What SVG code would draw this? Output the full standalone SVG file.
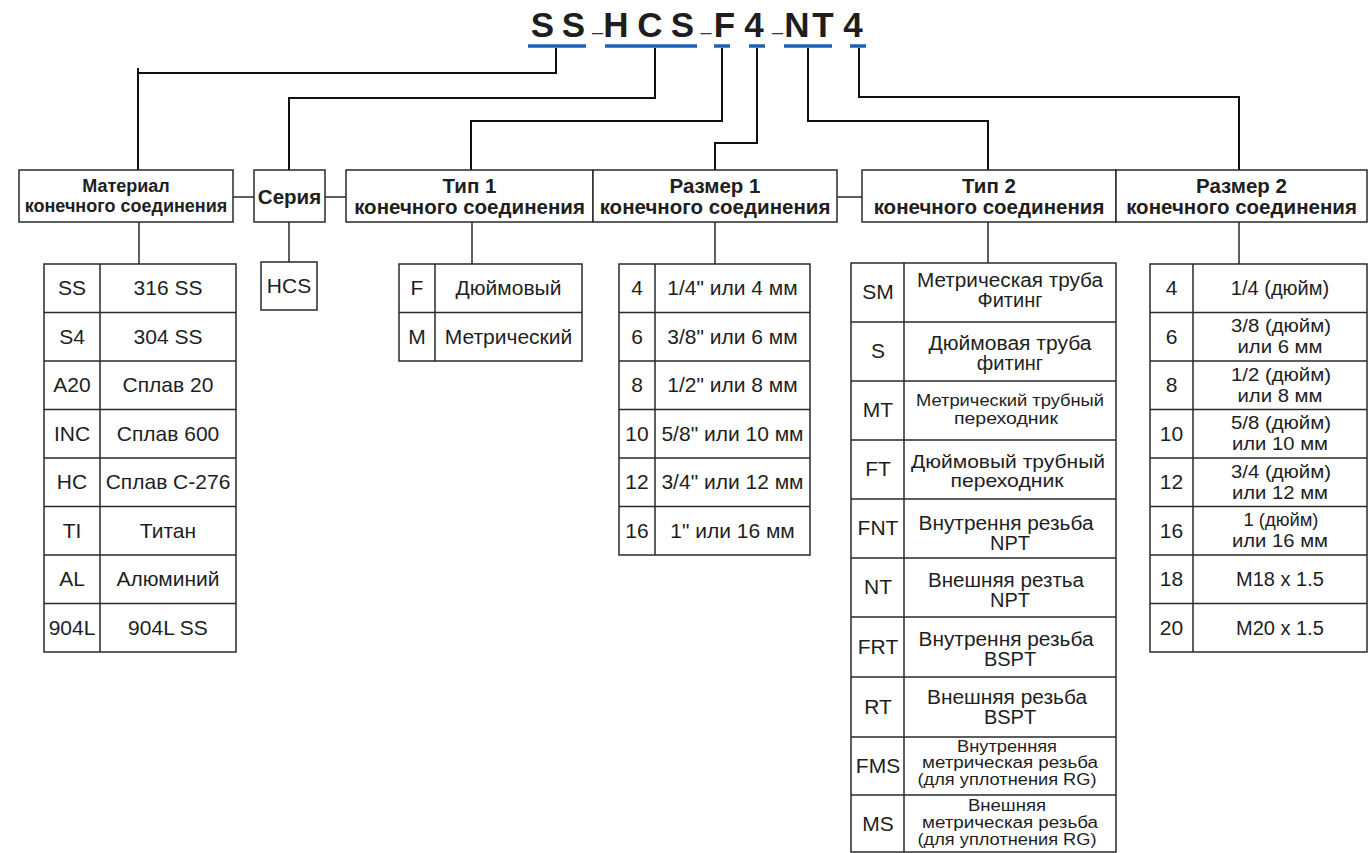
<svg xmlns="http://www.w3.org/2000/svg" width="1370" height="853" viewBox="0 0 1370 853">
<style>
text { font-family: "Liberation Sans", Arial, sans-serif; fill: #1e1e1e; text-anchor: middle; }
.title { font-size: 35px; font-weight: bold; }
.dash { font-size: 20px; font-weight: normal; fill: #333; }
.hb { font-size: 20.5px; font-weight: bold; }
.hb18 { font-size: 18px; font-weight: bold; }
.c { font-size: 21px; }
.c20 { font-size: 20px; }
.c2l { font-size: 18px; }
.c19 { font-size: 19px; }
.c17 { font-size: 17px; }
.c16 { font-size: 16px; }
.box { fill: #fff; stroke: #2a2a2a; stroke-width: 1.5; }
.grid { stroke: #2a2a2a; stroke-width: 1.5; fill: none; }
.conn { stroke: #111; stroke-width: 2; fill: none; }
.bar { stroke: #1a64b4; stroke-width: 3.5; }
</style>

<g id="title">
  <text class="title" y="37"><tspan x="542.5 573.5">SS</tspan><tspan class="dash" x="597.5" y="38.5">–</tspan><tspan x="616 650 682.5" y="37">HCS</tspan><tspan class="dash" x="706" y="38.5">–</tspan><tspan x="724.5 754" y="37">F4</tspan><tspan class="dash" x="777.5" y="38.5">–</tspan><tspan x="797 823 853" y="37">NT4</tspan></text>
  <line class="bar" x1="528" y1="46" x2="586" y2="46"/>
  <line class="bar" x1="605" y1="46" x2="697" y2="46"/>
  <line class="bar" x1="714" y1="46" x2="730" y2="46"/>
  <line class="bar" x1="749" y1="46" x2="765" y2="46"/>
  <line class="bar" x1="784" y1="46" x2="832" y2="46"/>
  <line class="bar" x1="850" y1="46" x2="866" y2="46"/>
</g>

<g id="connectors">
  <path class="conn" d="M556,48 V73 H138"/>
  <path class="conn" d="M138,68 V170"/>
  <path class="conn" d="M655,48 V98 H289 V170"/>
  <path class="conn" d="M722,48 V121 H471 V170"/>
  <path class="conn" d="M757,48 V143 H715 V170"/>
  <path class="conn" d="M808,48 V121 H988 V170"/>
  <path class="conn" d="M859,48 V97 H1239 V170"/>
  <path class="grid" d="M233,197 H254 M325,197 H346 M837,197 H862"/>
  <path class="grid" d="M139,222 V264 M289,222 V262 M472,222 V264 M715,222 V264 M988,222 V263 M1239,222 V264"/>
</g>

<g id="h-material">
  <rect class="box" x="19" y="170" width="214" height="52"/>
  <text class="hb18" x="126" y="192">Материал</text>
  <text class="hb18" x="126" y="212">конечного соединения</text>
</g>
<g id="h-series">
  <rect class="box" x="254" y="170" width="71" height="52"/>
  <text class="hb" x="289.5" y="204">Серия</text>
</g>
<g id="h-type1">
  <rect class="box" x="346" y="170" width="247" height="52"/>
  <text class="hb" x="469.5" y="193">Тип 1</text>
  <text class="hb" x="469.5" y="214">конечного соединения</text>
</g>
<g id="h-size1">
  <rect class="box" x="593" y="170" width="244" height="52"/>
  <text class="hb" x="715" y="193">Размер 1</text>
  <text class="hb" x="715" y="214">конечного соединения</text>
</g>
<g id="h-type2">
  <rect class="box" x="862" y="170" width="254" height="52"/>
  <text class="hb" x="989" y="193">Тип 2</text>
  <text class="hb" x="989" y="214">конечного соединения</text>
</g>
<g id="h-size2">
  <rect class="box" x="1116" y="170" width="251" height="52"/>
  <text class="hb" x="1241.5" y="193">Размер 2</text>
  <text class="hb" x="1241.5" y="214">конечного соединения</text>
</g>

<g id="t-material">
  <rect class="box" x="44" y="264" width="192" height="388"/>
  <path class="grid" d="M100,264 V652 M44,312.5 H236 M44,361 H236 M44,409.5 H236 M44,458 H236 M44,506.5 H236 M44,555 H236 M44,603.5 H236"/>
  <text class="c" x="72" y="295">SS</text><text class="c" x="168" y="295">316 SS</text>
  <text class="c" x="72" y="344">S4</text><text class="c" x="168" y="344">304 SS</text>
  <text class="c" x="72" y="392">A20</text><text class="c" x="168" y="392">Сплав 20</text>
  <text class="c" x="72" y="441">INC</text><text class="c" x="168" y="441">Сплав 600</text>
  <text class="c" x="72" y="489">HC</text><text class="c" x="168" y="489">Сплав C-276</text>
  <text class="c" x="72" y="538">TI</text><text class="c" x="168" y="538">Титан</text>
  <text class="c" x="72" y="586">AL</text><text class="c" x="168" y="586">Алюминий</text>
  <text class="c" x="72" y="635">904L</text><text class="c" x="168" y="635">904L SS</text>
</g>

<g id="t-series">
  <rect class="box" x="261" y="262" width="56" height="48"/>
  <text class="c" x="289" y="293">HCS</text>
</g>

<g id="t-type1">
  <rect class="box" x="399" y="264" width="183" height="97"/>
  <path class="grid" d="M435,264 V361 M399,312.5 H582"/>
  <text class="c" x="417" y="295">F</text><text class="c" x="508.5" y="295">Дюймовый</text>
  <text class="c" x="417" y="344">M</text><text class="c" x="508.5" y="344">Метрический</text>
</g>

<g id="t-size1">
  <rect class="box" x="619" y="264" width="191" height="291"/>
  <path class="grid" d="M655,264 V555 M619,312.5 H810 M619,361 H810 M619,409.5 H810 M619,458 H810 M619,506.5 H810"/>
  <text class="c" x="637" y="295">4</text><text class="c" x="732.5" y="295">1/4" или 4 мм</text>
  <text class="c" x="637" y="344">6</text><text class="c" x="732.5" y="344">3/8" или 6 мм</text>
  <text class="c" x="637" y="392">8</text><text class="c" x="732.5" y="392">1/2" или 8 мм</text>
  <text class="c" x="637" y="441">10</text><text class="c" x="732.5" y="441">5/8" или 10 мм</text>
  <text class="c" x="637" y="489">12</text><text class="c" x="732.5" y="489">3/4" или 12 мм</text>
  <text class="c" x="637" y="538">16</text><text class="c" x="732.5" y="538">1" или 16 мм</text>
</g>

<g id="t-type2">
  <rect class="box" x="851" y="263" width="265" height="589"/>
  <path class="grid" d="M904,263 V852 M851,322 H1116 M851,381 H1116 M851,440 H1116 M851,499 H1116 M851,558 H1116 M851,617 H1116 M851,677 H1116 M851,737 H1116 M851,795 H1116"/>
  <text class="c" x="878" y="299">SM</text>
  <text class="c20" x="1010" y="287" textLength="186" lengthAdjust="spacingAndGlyphs">Метрическая труба</text>
  <text class="c20" x="1010" y="307">Фитинг</text>
  <text class="c" x="878" y="358">S</text>
  <text class="c20" x="1010" y="350" textLength="163" lengthAdjust="spacingAndGlyphs">Дюймовая труба</text>
  <text class="c20" x="1010" y="370">фитинг</text>
  <text class="c" x="878" y="417">MT</text>
  <text class="c17" x="1010" y="406" textLength="188" lengthAdjust="spacingAndGlyphs">Метрический трубный</text>
  <text class="c17" x="1006" y="424" textLength="104" lengthAdjust="spacingAndGlyphs">переходник</text>
  <text class="c" x="878" y="476">FT</text>
  <text class="c19" x="1008" y="468" textLength="194" lengthAdjust="spacingAndGlyphs">Дюймовый трубный</text>
  <text class="c19" x="1007" y="487" textLength="113" lengthAdjust="spacingAndGlyphs">переходник</text>
  <text class="c" x="878" y="535">FNT</text>
  <text class="c20" x="1006" y="530" textLength="175" lengthAdjust="spacingAndGlyphs">Внутрення резьба</text>
  <text class="c20" x="1010" y="550">NPT</text>
  <text class="c" x="878" y="594">NT</text>
  <text class="c20" x="1006" y="587" textLength="156" lengthAdjust="spacingAndGlyphs">Внешняя резтьа</text>
  <text class="c20" x="1010" y="607">NPT</text>
  <text class="c" x="878" y="654">FRT</text>
  <text class="c20" x="1006" y="646" textLength="175" lengthAdjust="spacingAndGlyphs">Внутрення резьба</text>
  <text class="c20" x="1010" y="666">BSPT</text>
  <text class="c" x="878" y="714">RT</text>
  <text class="c20" x="1007" y="704" textLength="160" lengthAdjust="spacingAndGlyphs">Внешняя резьба</text>
  <text class="c20" x="1010" y="724">BSPT</text>
  <text class="c" x="878" y="773">FMS</text>
  <text class="c16" x="1007" y="752" textLength="100" lengthAdjust="spacingAndGlyphs">Внутренняя</text>
  <text class="c16" x="1010" y="768" textLength="176" lengthAdjust="spacingAndGlyphs">метрическая резьба</text>
  <text class="c16" x="1007" y="785" textLength="179" lengthAdjust="spacingAndGlyphs">(для уплотнения RG)</text>
  <text class="c" x="878" y="831">MS</text>
  <text class="c16" x="1007" y="811" textLength="78" lengthAdjust="spacingAndGlyphs">Внешняя</text>
  <text class="c16" x="1010" y="828" textLength="176" lengthAdjust="spacingAndGlyphs">метрическая резьба</text>
  <text class="c16" x="1007" y="845" textLength="179" lengthAdjust="spacingAndGlyphs">(для уплотнения RG)</text>
</g>

<g id="t-size2">
  <rect class="box" x="1150" y="264" width="217" height="388"/>
  <path class="grid" d="M1193,264 V652 M1150,312.5 H1367 M1150,361 H1367 M1150,409.5 H1367 M1150,458 H1367 M1150,506.5 H1367 M1150,555 H1367 M1150,603.5 H1367"/>
  <text class="c" x="1171.5" y="295">4</text><text class="c20" x="1280" y="295">1/4 (дюйм)</text>
  <text class="c" x="1171.5" y="344">6</text><text class="c2l" x="1281" y="332" textLength="100" lengthAdjust="spacingAndGlyphs">3/8 (дюйм)</text><text class="c2l" x="1280" y="353" textLength="85" lengthAdjust="spacingAndGlyphs">или 6 мм</text>
  <text class="c" x="1171.5" y="392">8</text><text class="c2l" x="1281" y="380.5" textLength="100" lengthAdjust="spacingAndGlyphs">1/2 (дюйм)</text><text class="c2l" x="1280" y="401.5" textLength="85" lengthAdjust="spacingAndGlyphs">или 8 мм</text>
  <text class="c" x="1171.5" y="441">10</text><text class="c2l" x="1281" y="429" textLength="100" lengthAdjust="spacingAndGlyphs">5/8 (дюйм)</text><text class="c2l" x="1280" y="450" textLength="96" lengthAdjust="spacingAndGlyphs">или 10 мм</text>
  <text class="c" x="1171.5" y="489">12</text><text class="c2l" x="1281" y="477.5" textLength="100" lengthAdjust="spacingAndGlyphs">3/4 (дюйм)</text><text class="c2l" x="1280" y="498.5" textLength="96" lengthAdjust="spacingAndGlyphs">или 12 мм</text>
  <text class="c" x="1171.5" y="538">16</text><text class="c2l" x="1281" y="526" textLength="75" lengthAdjust="spacingAndGlyphs">1 (дюйм)</text><text class="c2l" x="1280" y="547" textLength="96" lengthAdjust="spacingAndGlyphs">или 16 мм</text>
  <text class="c" x="1171.5" y="586">18</text><text class="c20" x="1280" y="586">M18 x 1.5</text>
  <text class="c" x="1171.5" y="635">20</text><text class="c20" x="1280" y="635">M20 x 1.5</text>
</g>
</svg>
